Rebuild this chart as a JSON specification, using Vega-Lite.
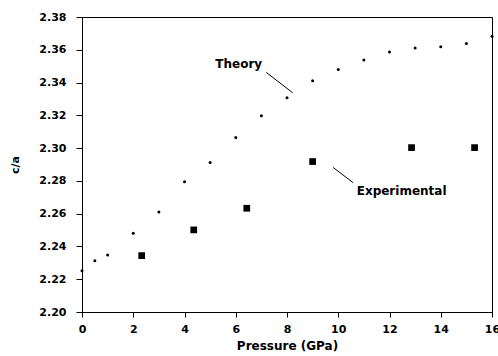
{
  "$schema": "https://vega.github.io/schema/vega-lite/v6.json",
  "width": 410,
  "height": 295,
  "autosize": "none",
  "padding": {"left": 82, "top": 17, "right": 6, "bottom": 44},
  "background": "white",
  "config": {
    "view": {"stroke": "black", "strokeWidth": 1},
    "font": "DejaVu Sans",
    "axis": {"grid": false, "domainColor": "black", "tickColor": "black", "labelColor": "black", "titleColor": "black", "labelFont": "DejaVu Sans", "titleFont": "DejaVu Sans", "labelFontWeight": "bold", "titleFontWeight": "bold", "labelOverlap": false, "labelFlush": false, "labelBound": false}
  },
  "datasets": {
    "theory": [
      {"p": 0, "ca": 2.2252},
      {"p": 0.5, "ca": 2.2313},
      {"p": 1, "ca": 2.2348},
      {"p": 2, "ca": 2.248},
      {"p": 3, "ca": 2.261},
      {"p": 4, "ca": 2.2794},
      {"p": 5, "ca": 2.2912},
      {"p": 6, "ca": 2.3064},
      {"p": 7, "ca": 2.3197},
      {"p": 8, "ca": 2.3307},
      {"p": 9, "ca": 2.3411},
      {"p": 10, "ca": 2.348},
      {"p": 11, "ca": 2.3537},
      {"p": 12, "ca": 2.3586},
      {"p": 13, "ca": 2.3611},
      {"p": 14, "ca": 2.3619},
      {"p": 15, "ca": 2.3639},
      {"p": 16, "ca": 2.3682}
    ],
    "experimental": [
      {"p": 2.33, "ca": 2.2344},
      {"p": 4.36, "ca": 2.2501},
      {"p": 6.43, "ca": 2.2633},
      {"p": 9.0, "ca": 2.2918},
      {"p": 12.86, "ca": 2.3003},
      {"p": 15.32, "ca": 2.3003}
    ],
    "labelsR": [
      {"p": 7.03, "ca": 2.3515, "text": "Theory"}
    ],
    "labelsL": [
      {"p": 10.72, "ca": 2.2738, "text": "Experimental"}
    ],
    "pointers": [
      {"p": 7.19, "ca": 2.3462, "p2": 8.22, "ca2": 2.3338},
      {"p": 9.8, "ca": 2.2882, "p2": 10.58, "ca2": 2.2789}
    ]
  },
  "encoding": {
    "x": {"field": "p", "type": "quantitative", "scale": {"domain": [0, 16], "nice": false}, "axis": {"title": "Pressure (GPa)", "values": [0, 2, 4, 6, 8, 10, 12, 14, 16], "tickSize": 5, "labelFontSize": 11, "labelPadding": 6, "titleFontSize": 12, "titlePadding": 6}},
    "y": {"field": "ca", "type": "quantitative", "scale": {"domain": [2.2, 2.38], "nice": false, "zero": false}, "axis": {"title": "c/a", "values": [2.2, 2.22, 2.24, 2.26, 2.28, 2.3, 2.32, 2.34, 2.36, 2.38], "tickCount": 10, "format": ".2f", "tickSize": 6, "labelFontSize": 11, "labelPadding": 10, "titleFontSize": 11, "titlePadding": 18}}
  },
  "layer": [
    {
      "data": {"name": "theory"},
      "mark": {"type": "point", "filled": true, "color": "black", "size": 9, "opacity": 1}
    },
    {
      "data": {"name": "experimental"},
      "mark": {"type": "square", "filled": true, "color": "black", "size": 45, "opacity": 1}
    },
    {
      "data": {"name": "pointers"},
      "mark": {"type": "rule", "color": "black", "strokeWidth": 1},
      "encoding": {
        "x2": {"field": "p2"},
        "y2": {"field": "ca2"}
      }
    },
    {
      "data": {"name": "labelsR"},
      "mark": {"type": "text", "font": "DejaVu Sans", "fontSize": 12, "fontWeight": "bold", "color": "black", "baseline": "middle", "align": "right"},
      "encoding": {
        "text": {"field": "text"}
      }
    },
    {
      "data": {"name": "labelsL"},
      "mark": {"type": "text", "font": "DejaVu Sans", "fontSize": 12, "fontWeight": "bold", "color": "black", "baseline": "middle", "align": "left"},
      "encoding": {
        "text": {"field": "text"}
      }
    }
  ]
}
